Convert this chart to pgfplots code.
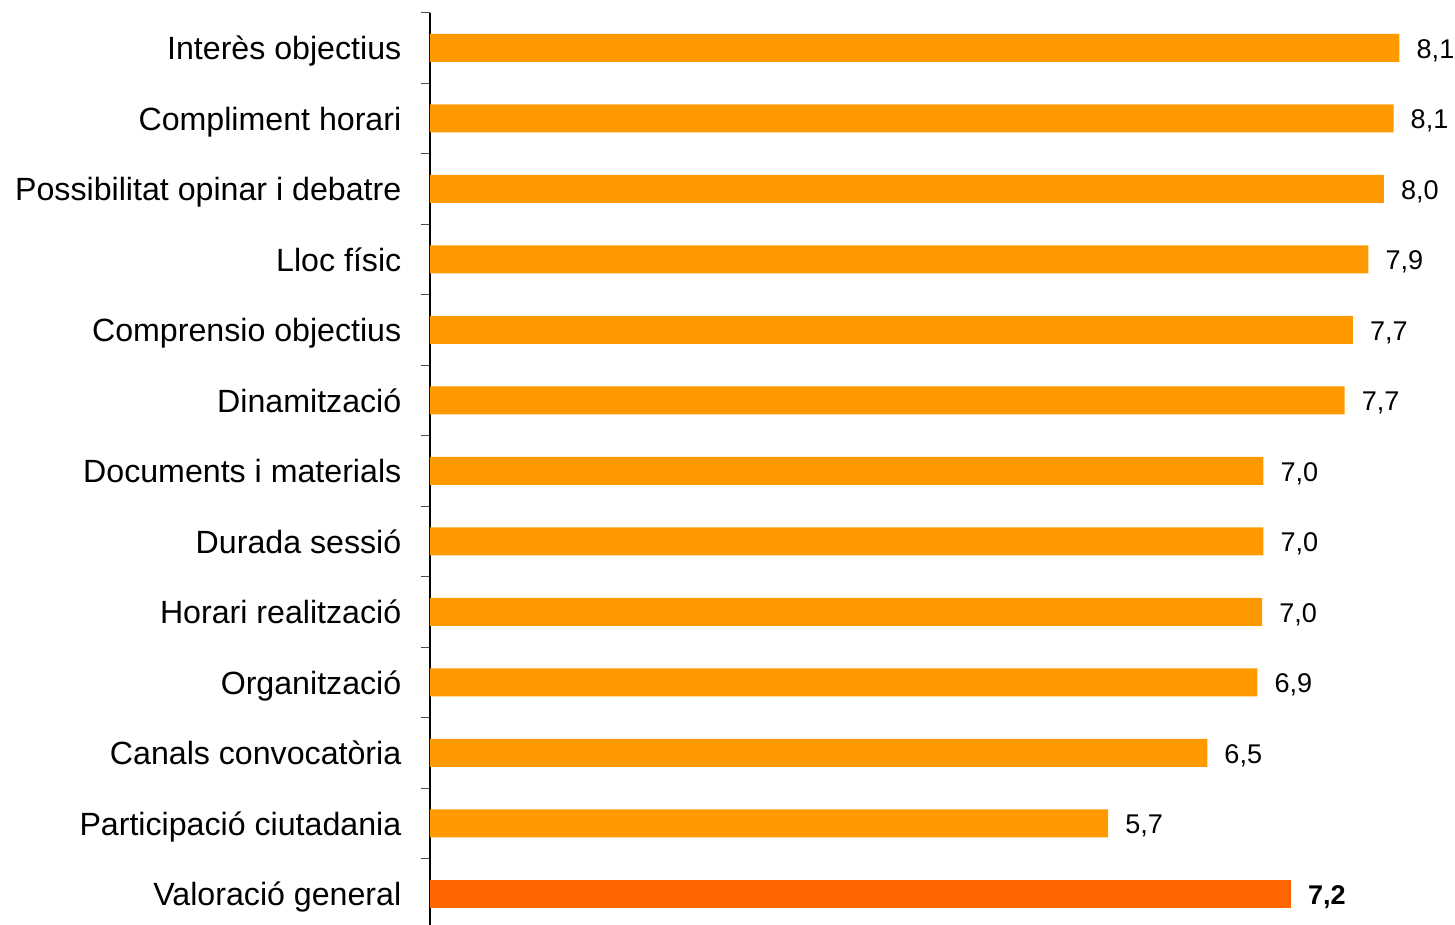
\documentclass[border=0pt]{standalone}
\usepackage{pgfplots}
\pgfplotsset{compat=1.18}
\usepackage{fontspec}
\setmainfont{Liberation Sans}
\definecolor{barorange}{HTML}{FF9900}
\definecolor{bardark}{HTML}{FF6600}
\begin{document}
\begin{tikzpicture}[x=1cm,y=1cm]
  \begin{axis}[
    at={(0,-0.0425cm)}, anchor=south west,
    scale only axis,
    width=10.25cm, height=9.165cm,
    xbar, bar width=0.28cm, bar shift=0pt,
    xmin=0, xmax=8.585,
    ymin=-0.5, ymax=12.5,
    axis x line=none,
    axis y line*=left,
    axis line style={line width=0.35pt, -},
    ytick={0,...,12},
    yticklabels={Valoració general, Participació ciutadania, Canals convocatòria,
      Organització, Horari realització, Durada sessió, Documents i materials,
      Dinamització, Comprensio objectius, Lloc físic, Possibilitat opinar i debatre,
      Compliment horari, Interès objectius},
    major tick length=0pt,
    minor ytick={-0.5,0.5,...,12.5},
    minor tick length=0.09cm,
    tick align=outside,
    ytick pos=left,
    tick style={line width=0.35pt, black!70},
    yticklabel style={font=\fontsize{9.15}{11}\selectfont, inner sep=0pt,
      anchor=base east, xshift=-0.28cm, yshift=-0.12cm},
    point meta=explicit symbolic,
    nodes near coords,
    nodes near coords style={anchor=base west, inner sep=0pt, xshift=0.165cm,
      yshift=-0.105cm, font=\fontsize{7.7}{9}\selectfont},
    clip=false,
  ]
  % valors de cada aspecte
  \addplot[fill=barorange, draw=none] coordinates {
    (8.12,12) [8,1]
    (8.07,11) [8,1]
    (7.99,10) [8,0]
    (7.86,9)  [7,9]
    (7.73,8)  [7,7]
    (7.66,7)  [7,7]
    (6.98,6)  [7,0]
    (6.98,5)  [7,0]
    (6.97,4)  [7,0]
    (6.93,3)  [6,9]
    (6.51,2)  [6,5]
    (5.68,1)  [5,7]
  };
  % valoració general
  \addplot[fill=bardark, draw=none,
    nodes near coords style={font=\fontsize{7.7}{9}\selectfont\bfseries}]
    coordinates {(7.21,0) [7,2]};
  \end{axis}
  \pgfresetboundingbox
  \useasboundingbox (-4.30,0) rectangle (10.25,9.25);
\end{tikzpicture}
\end{document}
